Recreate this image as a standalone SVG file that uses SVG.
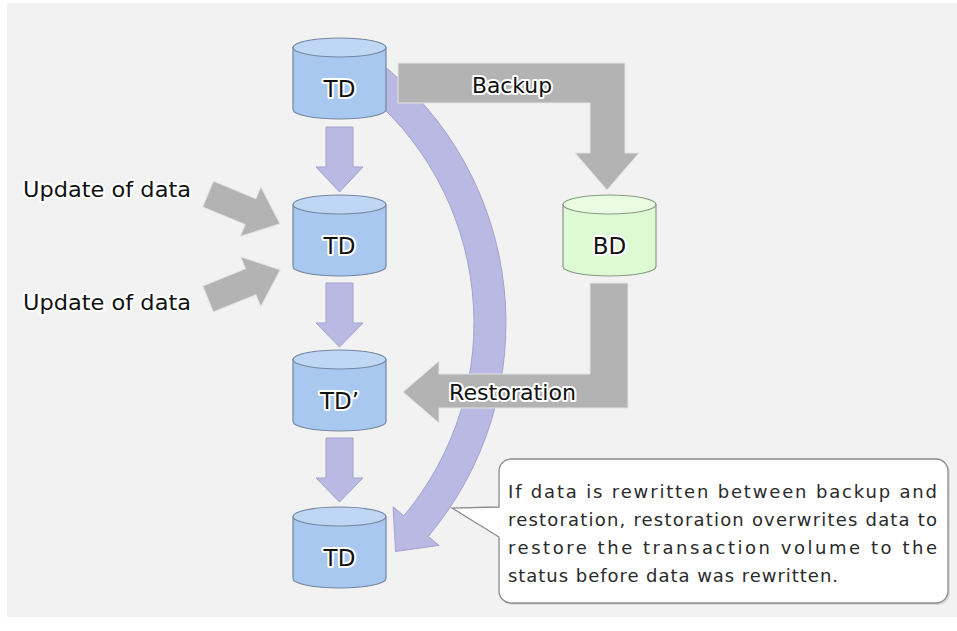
<svg xmlns="http://www.w3.org/2000/svg" width="957" height="631" viewBox="0 0 957 631">
<defs>
<style>
.cylb{fill:#a9c8f0;stroke:#7486a0;stroke-width:1.2}
.cylt{fill:#bfd6f4;stroke:#7486a0;stroke-width:1.2}
.bdb{fill:#dcfad4;stroke:#8a9a82;stroke-width:1.2}
.bdt{fill:#e9fce2;stroke:#8a9a82;stroke-width:1.2}
.lbl{font-family:"DejaVu Sans","Liberation Sans",Arial,sans-serif;fill:#111;stroke:#fff;stroke-width:4;stroke-linejoin:round;paint-order:stroke}
.cl{font-size:23px;text-anchor:middle}
.gray{fill:#b3b3b3;stroke:#e4e4e4;stroke-width:1}
.purp{fill:#b9b9e3;stroke:#a3a3cc;stroke-width:1}
.note{font-family:"DejaVu Sans","Liberation Sans",Arial,sans-serif;font-size:18px;fill:#2a2a2a}
</style>
</defs>
<rect x="0" y="0" width="957" height="631" fill="#ffffff"/>
<rect x="7" y="3" width="950" height="614" fill="#f2f2f2"/>

<g id="connectors">
<path id="curve" class="purp" d="M378.4 61.4 A332 332 0 0 1 428.3 536.4 L439 545.4 L395.5 551.5 L393.1 506.8 L403.8 515.8 A300 300 0 0 0 358.7 86.6 Z"/>
<polygon class="purp" points="326,127 353,127 353,167 363,167 339.5,192 316,167 326,167"/>
<polygon class="purp" points="326,283 353,283 353,323 363,323 339.5,347 316,323 326,323"/>
<polygon class="purp" points="326,438 353,438 353,478 363,478 339.5,502 316,478 326,478"/>
<polygon id="backup" class="gray" points="398,63 625,63 625,153 639,153 607,190 575,153 590,153 590,103 398,103"/>
<polygon id="restoration" class="gray" points="628,283 628,408 439,408 439,423 403,392 439,361 439,374 590,374 590,283"/>
<polygon class="gray" transform="translate(208,194) rotate(22.5)" points="0,-14 46,-14 46,-27 78,0 46,27 46,14 0,14"/>
<polygon class="gray" transform="translate(208,299) rotate(-22)" points="0,-14 46,-14 46,-27 78,0 46,27 46,14 0,14"/>
<text class="lbl" x="512" y="93" font-size="21" text-anchor="middle" textLength="80" lengthAdjust="spacingAndGlyphs">Backup</text>
<text class="lbl" x="449" y="400" font-size="21" textLength="127" lengthAdjust="spacingAndGlyphs">Restoration</text>
<text class="lbl" x="23" y="197" font-size="21" textLength="168" lengthAdjust="spacingAndGlyphs">Update of data</text>
<text class="lbl" x="23" y="310" font-size="21" textLength="168" lengthAdjust="spacingAndGlyphs">Update of data</text>
</g>

<g id="td1" transform="translate(293,38)">
<path class="cylb" d="M0 9.5 V71.5 A46.5 9.5 0 0 0 93 71.5 V9.5 Z"/>
<ellipse class="cylt" cx="46.5" cy="9.5" rx="46.5" ry="9.5"/>
<text class="lbl cl" x="46.5" y="59">TD</text>
</g>
<g id="td2" transform="translate(293,195)">
<path class="cylb" d="M0 9.5 V71.5 A46.5 9.5 0 0 0 93 71.5 V9.5 Z"/>
<ellipse class="cylt" cx="46.5" cy="9.5" rx="46.5" ry="9.5"/>
<text class="lbl cl" x="46.5" y="59">TD</text>
</g>
<g id="td3" transform="translate(293,350)">
<path class="cylb" d="M0 9.5 V71.5 A46.5 9.5 0 0 0 93 71.5 V9.5 Z"/>
<ellipse class="cylt" cx="46.5" cy="9.5" rx="46.5" ry="9.5"/>
<text class="lbl cl" x="46.5" y="59">TD’</text>
</g>
<g id="td4" transform="translate(293,507)">
<path class="cylb" d="M0 9.5 V71.5 A46.5 9.5 0 0 0 93 71.5 V9.5 Z"/>
<ellipse class="cylt" cx="46.5" cy="9.5" rx="46.5" ry="9.5"/>
<text class="lbl cl" x="46.5" y="59">TD</text>
</g>
<g id="bd" transform="translate(563,195)">
<path class="bdb" d="M0 9.5 V71.5 A46.5 9.5 0 0 0 93 71.5 V9.5 Z"/>
<ellipse class="bdt" cx="46.5" cy="9.5" rx="46.5" ry="9.5"/>
<text class="lbl cl" x="46.5" y="59">BD</text>
</g>

<g id="note">
<path d="M513 461 H938 A12 12 0 0 1 950 473 V593 A12 12 0 0 1 938 605 H513 A12 12 0 0 1 501 593 Z" fill="#c8c8c8" opacity="0.6"/>
<path d="M511 459 H936 A12 12 0 0 1 948 471 V591 A12 12 0 0 1 936 603 H511 A12 12 0 0 1 499 591 V537 L452 508 L499 507 V471 A12 12 0 0 1 511 459 Z" fill="#ffffff" stroke="#8c8c8c" stroke-width="1.3"/>
<text class="note" x="508" y="498" textLength="429" lengthAdjust="spacing">If data is rewritten between backup and</text>
<text class="note" x="508" y="526" textLength="429" lengthAdjust="spacing">restoration, restoration overwrites data to</text>
<text class="note" x="508" y="554" textLength="429" lengthAdjust="spacing">restore the transaction volume to the</text>
<text class="note" x="508" y="582" textLength="330" lengthAdjust="spacing">status before data was rewritten.</text>
</g>
</svg>
